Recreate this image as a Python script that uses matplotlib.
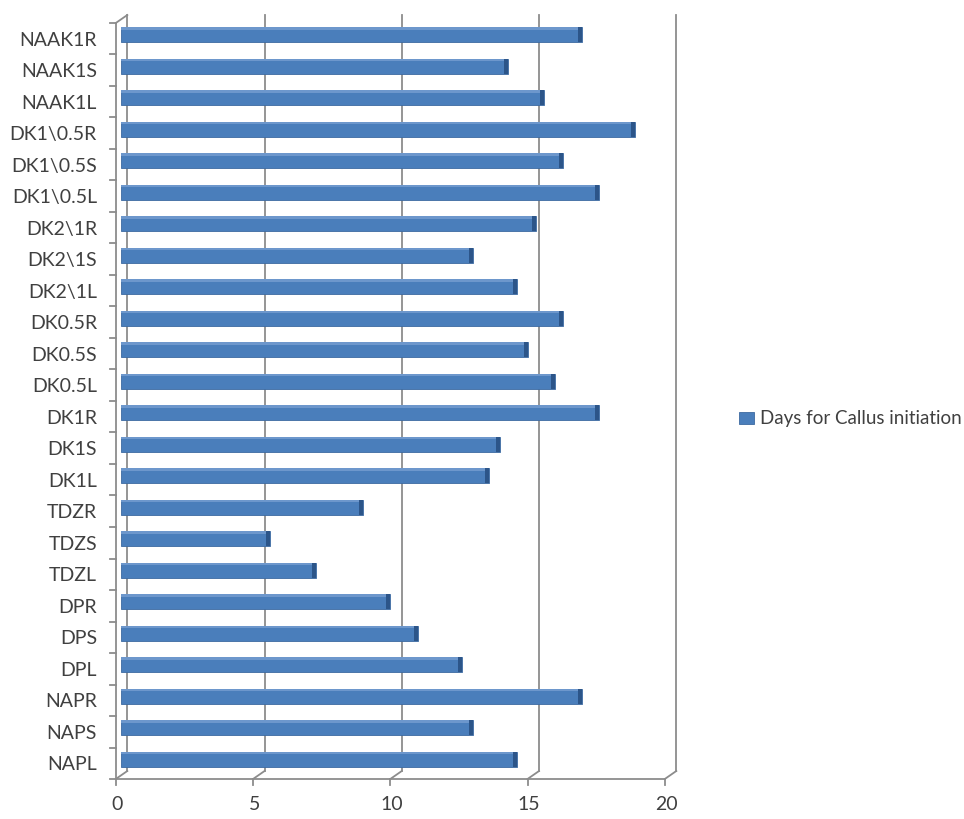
import numpy as np
import matplotlib
matplotlib.use("Agg")
import matplotlib.pyplot as plt
import matplotlib.transforms as mtransforms

# Days for callus initiation per treatment/explant (bottom to top)
labels = ["NAPL", "NAPS", "NAPR", "DPL", "DPS", "DPR", "TDZL", "TDZS", "TDZR",
          "DK1L", "DK1S", "DK1R", "DK0.5L", "DK0.5S", "DK0.5R",
          "DK2\\1L", "DK2\\1S", "DK2\\1R", "DK1\\0.5L", "DK1\\0.5S", "DK1\\0.5R",
          "NAAK1L", "NAAK1S", "NAAK1R"]
days = [14.4, 12.8, 16.8, 12.4, 10.8, 9.8, 7.1, 5.4, 8.8,
        13.4, 13.8, 17.4, 15.8, 14.8, 16.1,
        14.4, 12.8, 15.1, 17.4, 16.1, 18.7,
        15.4, 14.1, 16.8]
xticks = [0, 5, 10, 15, 20]
series_name = "Days for Callus initiation"

plt.rcParams['font.family'] = ['Lato', 'DejaVu Sans']

W, H = 964, 819
fig = plt.figure(figsize=(W / 100, H / 100), dpi=100)
# axes sit on the middle depth plane of the fake 3-D box
left_px, right_px, top_px, bot_px = 121.3, 670.3, 19, 775
ax = fig.add_axes([left_px / W, 1 - bot_px / H,
                   (right_px - left_px) / W, (bot_px - top_px) / H])
ax.set_xlim(0, 20)
ax.set_ylim(-0.5, len(labels) - 0.5)
for s in ax.spines.values():
    s.set_visible(False)

px2x = 20 / (right_px - left_px)
px2y = len(labels) / (bot_px - top_px)
fx, fy = -5.5 * px2x, -4 * px2y   # front plane
bx, by = 6 * px2x, 4 * px2y       # back wall
y0, y1 = -0.5, len(labels) - 0.5
gc = dict(color="#8c8c8c", lw=1.3, clip_on=False, zorder=1)

# back wall gridlines and floor edges
for v in xticks:
    ax.plot([v + bx, v + bx], [y0 + by, y1 + by], **gc)
    ax.plot([v + fx, v + bx], [y0 + fy, y0 + by], **gc)
    ax.plot([v + fx, v + fx], [y0 + fy, y0 + fy - 6 * px2y], **gc)
ax.plot([0 + fx, 20 + fx], [y0 + fy, y0 + fy], **gc)
# left front axis with category tick marks
ax.plot([fx, fx], [y0 + fy, y1 + fy], **gc)
ax.plot([fx, bx], [y1 + fy, y1 + by], **gc)
for k in range(len(labels) + 1):
    ax.plot([fx, fx - 6 * px2x], [k - 0.5 + fy, k - 0.5 + fy], **gc)

# bars with a darker end cap
y = np.arange(len(labels))
days = np.array(days)
h = 0.48
ax.barh(y, days, height=h, color="#4a7ebb", edgecolor="#3c6aa1", lw=0.6,
        zorder=3, label=series_name)
ax.barh(y + h / 2 - 0.04, days, height=0.08, color="#6d97cc", lw=0, zorder=4)
cap = 4 * px2x
ax.barh(y, cap, left=days - cap, height=h, color="#2c5589", lw=0, zorder=5)

# tick labels
ax.set_yticks(y)
ax.set_yticklabels(labels, fontsize=14, color="#404040")
ax.tick_params(axis="y", length=0, pad=17.5)
ax.set_xticks(xticks)
ax.set_xticklabels([str(v) for v in xticks], fontsize=14, color="#404040")
ax.tick_params(axis="x", length=0, pad=15)
shift_y = mtransforms.ScaledTranslation(0, -4 / 100, fig.dpi_scale_trans)
for lbl in ax.get_yticklabels():
    lbl.set_transform(lbl.get_transform() + shift_y)
shift_x = mtransforms.ScaledTranslation(-4 / 100, 0, fig.dpi_scale_trans)
for lbl in ax.get_xticklabels():
    lbl.set_transform(lbl.get_transform() + shift_x)

fig.legend(loc="center left", bbox_to_anchor=(722 / W, 1 - 419 / H),
           frameon=False, fontsize=13.5, labelcolor="#404040",
           handlelength=0.8, handleheight=0.6, handletextpad=0.35)

fig.savefig("out.png", dpi=100)
